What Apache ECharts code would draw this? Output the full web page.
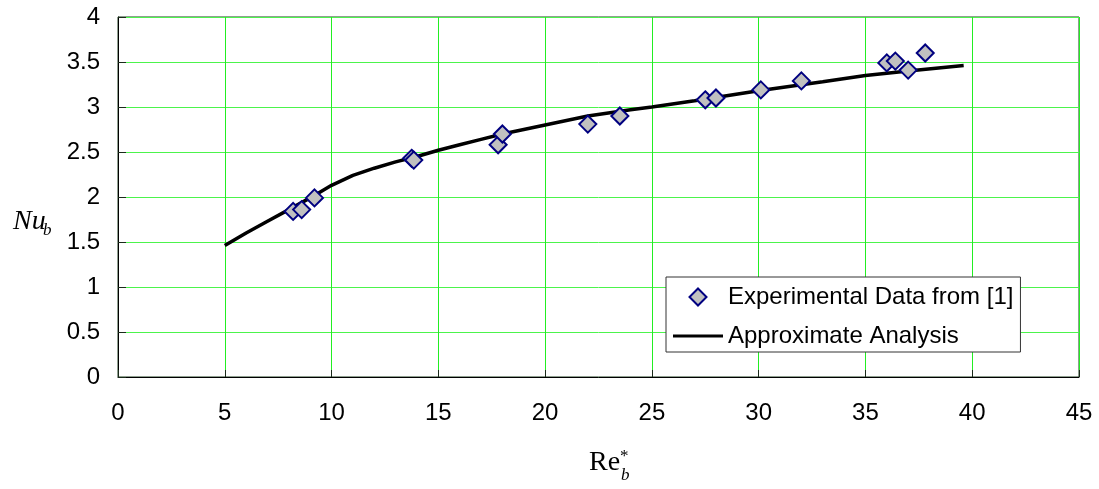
<!DOCTYPE html>
<html>
<head>
<meta charset="utf-8">
<script src="https://cdn.jsdelivr.net/npm/echarts@6/dist/echarts.min.js"></script>
<style>
html,body{margin:0;padding:0;background:#fff;}
#chart{width:1099px;height:489px;}
</style>
</head>
<body>
<div id="chart"></div>
<script>
// Experimental data (Re_b*, Nu_b)
var expRe = [8.2, 8.6, 9.2, 13.75, 13.85, 17.8, 18.0, 22.0, 23.5, 27.5, 28.0, 30.1, 32.0, 36.0, 36.4, 37.0, 37.8];
var expNu = [1.84, 1.86, 1.99, 2.43, 2.41, 2.58, 2.70, 2.81, 2.90, 3.08, 3.10, 3.19, 3.29, 3.49, 3.51, 3.41, 3.60];
// Approximate analysis curve
var anaRe = [5, 6, 7, 8, 9, 10, 11, 12, 13, 14, 15, 16, 17, 18, 19, 20, 22, 24, 25, 27, 30, 33, 35, 37, 39.6];
var anaNu = [1.46, 1.60, 1.73, 1.86, 1.99, 2.13, 2.24, 2.32, 2.39, 2.45, 2.52, 2.58, 2.64, 2.70, 2.75, 2.80, 2.90, 2.97, 3.00, 3.07, 3.18, 3.28, 3.35, 3.40, 3.46];
var seriesNames = ['Experimental Data from [1]', 'Approximate Analysis'];

var chart = echarts.init(document.getElementById('chart'), null, {renderer: 'canvas'});
var labelFont = 'Liberation Sans, Arial, sans-serif';
var serif = 'Liberation Serif, Times New Roman, serif';

var option = {
  animation: false,
  backgroundColor: '#ffffff',
  grid: {left: 118, right: 20, top: 17, bottom: 112, show: true, borderColor: '#1f3f1f', borderWidth: 1, backgroundColor: 'transparent'},
  xAxis: {
    type: 'value', min: 0, max: 45, interval: 5,
    axisLine: {show: true, onZero: false, lineStyle: {color: '#000', width: 1}},
    axisTick: {show: true, inside: true, length: 7, lineStyle: {color: '#1a2a1a'}},
    axisLabel: {color: '#000', fontSize: 24, fontFamily: labelFont, margin: 24},
    splitLine: {show: true, lineStyle: {color: '#22ee22', width: 1}}
  },
  yAxis: {
    type: 'value', min: 0, max: 4, interval: 0.5,
    axisLine: {show: true, onZero: false, lineStyle: {color: '#000', width: 1}},
    axisTick: {show: true, inside: true, length: 8, lineStyle: {color: '#1a2a1a'}},
    axisLabel: {color: '#000', fontSize: 24, fontFamily: labelFont, margin: 18},
    splitLine: {show: true, lineStyle: {color: '#4cf44c', width: 1}}
  },
  legend: {
    data: [
      {name: seriesNames[0], icon: 'path://M0,-1L1,0L0,1L-1,0Z'},
      {name: seriesNames[1], icon: 'path://M0,0H50V3.2H0Z'}
    ],
    orient: 'vertical',
    left: 666, top: 277,
    padding: [8, 7, 4, 7],
    itemGap: 15,
    itemWidth: 50, itemHeight: 17,
    symbolKeepAspect: true,
    borderColor: '#333', borderWidth: 1,
    backgroundColor: '#fff',
    textStyle: {color: '#000', fontSize: 24, fontFamily: labelFont},
    selectedMode: false
  },
  series: [
    {
      name: seriesNames[1], type: 'line',
      data: anaRe.map(function (x, i) { return [x, anaNu[i]]; }),
      symbol: 'none', showSymbol: false, smooth: false,
      lineStyle: {color: '#000', width: 3.5},
      itemStyle: {color: '#000'},
      z: 2
    },
    {
      name: seriesNames[0], type: 'scatter',
      data: expRe.map(function (x, i) { return [x, expNu[i]]; }),
      symbol: 'diamond', symbolSize: 17,
      itemStyle: {color: '#c0c0c0', borderColor: '#000080', borderWidth: 2, opacity: 1},
      z: 3
    }
  ],
  graphic: [
    {type: 'text', left: 13, top: 208, style: {text: 'Nu', font: 'italic 28px ' + serif, fill: '#000'}},
    {type: 'text', left: 43, top: 222, style: {text: 'b', font: 'italic 17px ' + serif, fill: '#000'}},
    {type: 'text', left: 589, top: 449, style: {text: 'Re', font: '28px ' + serif, fill: '#000'}},
    {type: 'text', left: 621, top: 467, style: {text: 'b', font: 'italic 17px ' + serif, fill: '#000'}},
    {type: 'text', left: 620, top: 448, style: {text: '*', font: '17px ' + serif, fill: '#000'}}
  ]
};
chart.setOption(option);
</script>
</body>
</html>
